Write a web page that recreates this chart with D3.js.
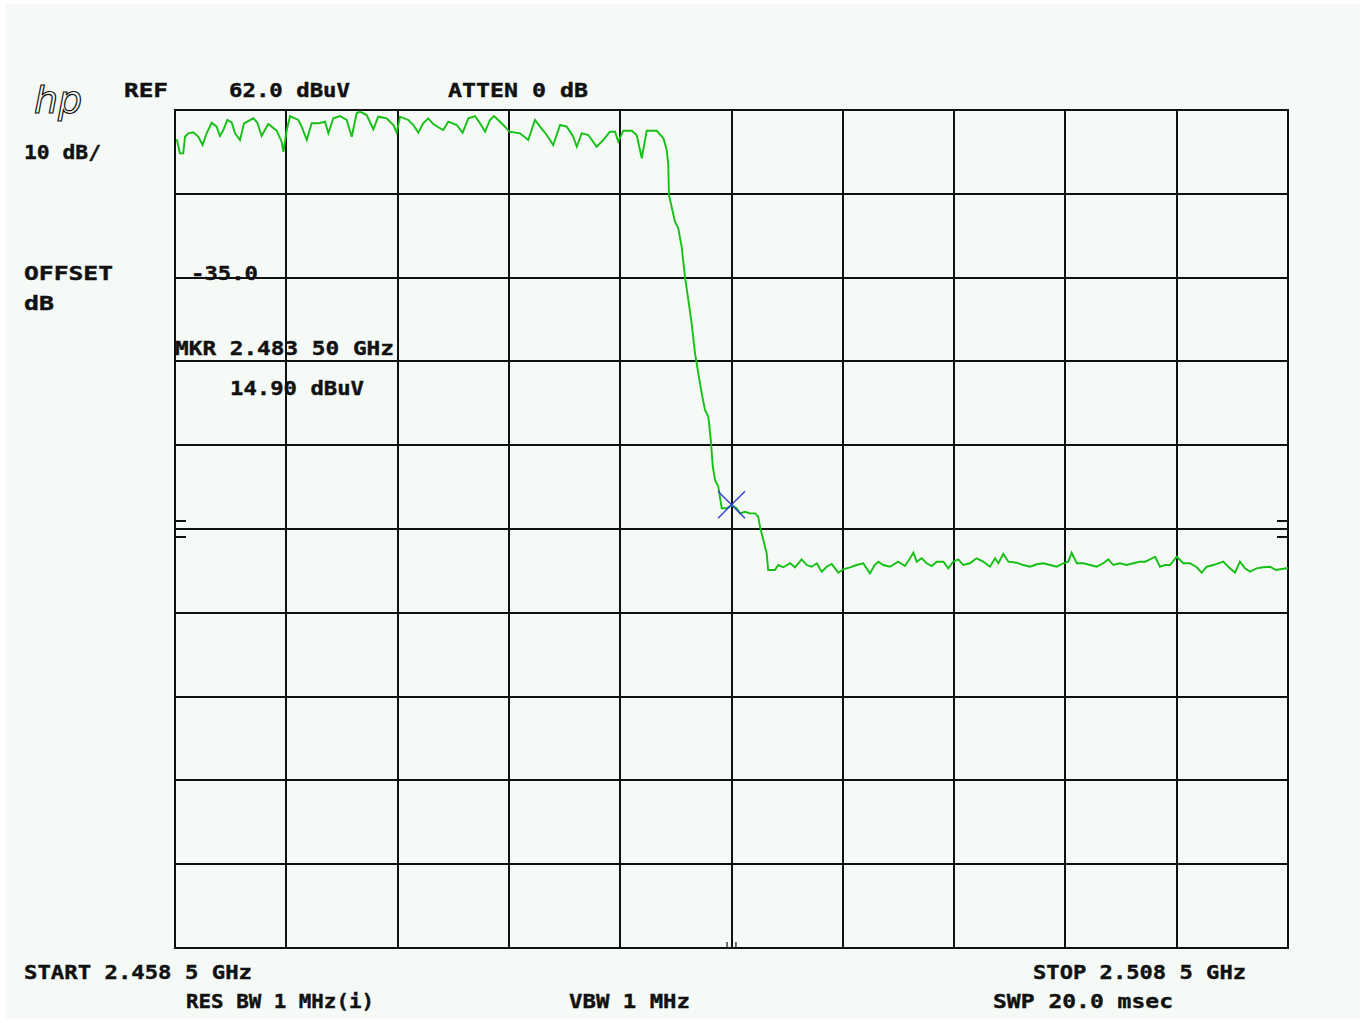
<!DOCTYPE html>
<html>
<head>
<meta charset="utf-8">
<script src="https://cdn.jsdelivr.net/npm/d3@7"></script>
<style>
  html, body { margin: 0; padding: 0; background: #ffffff; }
  svg { display: block; }
</style>
</head>
<body>
<svg id="chart" width="1366" height="1023"></svg>
<script>
// ---- Instrument settings (values) ----
const startMHz = 2458.5;
const stopMHz = 2508.5;
const refLevel = 62.0;      // dBuV, top of screen
const dbPerDiv = 10;
const nDivX = 10;
const nDivY = 10;
const markerFreq = 2483.50; // MHz
const markerLevel = 14.90;  // dBuV

// ---- Trace (frequency MHz, level dBuV) ----
const traceFreq = [
2458.58,2458.72,2458.87,2458.95,2459.10,2459.32,2459.55,2459.74,2459.92,2460.15,
2460.37,2460.52,2460.67,2460.85,2461.05,2461.20,2461.42,2461.60,2462.02,2462.20,
2462.39,2462.69,2463.07,2463.29,2463.37,2463.52,2463.67,2464.04,2464.19,2464.42,
2464.64,2464.94,2465.24,2465.39,2465.61,2465.91,2466.21,2466.44,2466.66,2466.81,
2467.11,2467.41,2467.63,2468.01,2468.31,2468.46,2468.61,2468.98,2469.21,2469.43,
2469.65,2469.88,2470.10,2470.33,2470.55,2470.78,2471.16,2471.42,2471.68,2471.98,
2472.20,2472.43,2472.65,2472.83,2473.10,2473.32,2473.52,2474.00,2474.37,2474.67,
2474.90,2475.20,2475.49,2475.80,2476.10,2476.39,2476.55,2476.77,2477.07,2477.44,
2477.74,2478.04,2478.27,2478.41,2478.64,2479.02,2479.24,2479.47,2479.69,2480.14,
2480.44,2480.59,2480.66,2480.69,2480.81,2480.96,2481.11,2481.26,2481.41,2481.56,
2481.71,2481.86,2482.01,2482.16,2482.31,2482.46,2482.57,2482.66,2482.76,2482.91,
2483.06,2483.28,2483.51,2483.73,2483.88,2484.11,2484.33,2484.56,2484.70,2484.78,
2484.93,2485.08,2485.15,2485.45,2485.60,2485.83,2486.13,2486.35,2486.65,2486.88,
2487.10,2487.33,2487.55,2487.78,2488.00,2488.30,2488.52,2488.82,2489.12,2489.42,
2489.72,2489.93,2490.10,2490.32,2490.62,2490.99,2491.29,2491.52,2491.67,2491.82,
2492.04,2492.27,2492.49,2492.72,2493.02,2493.24,2493.46,2493.69,2493.91,2494.21,
2494.51,2494.81,2495.11,2495.34,2495.49,2495.71,2495.94,2496.31,2496.61,2496.91,
2497.21,2497.51,2497.81,2498.11,2498.41,2498.63,2498.78,2499.01,2499.31,2499.61,
2499.91,2500.20,2500.43,2500.65,2500.95,2501.25,2501.55,2501.85,2502.08,2502.30,
2502.53,2502.75,2502.97,2503.20,2503.50,2503.80,2504.10,2504.40,2504.62,2504.85,
2505.15,2505.59,2505.89,2506.12,2506.34,2506.57,2506.79,2507.09,2507.39,2507.69,
2507.96,2508.50
];
const traceLevel = [
58.50,56.83,56.83,58.81,59.22,59.34,58.81,57.82,59.22,60.48,
60.01,58.90,59.61,60.81,60.48,59.22,58.42,60.41,61.01,60.48,
58.90,60.33,59.53,58.22,57.02,59.61,61.28,60.81,60.01,58.42,
60.41,60.41,60.60,59.22,61.01,61.28,60.81,58.81,61.61,61.80,
61.40,59.70,61.20,61.01,60.21,59.29,61.20,60.81,60.21,59.29,
60.41,61.01,60.33,59.94,59.61,60.60,60.21,59.29,61.01,61.28,
60.41,59.41,60.81,61.28,60.60,60.01,59.41,59.22,58.42,60.81,
60.01,59.02,57.82,60.21,60.01,58.81,57.62,59.22,59.02,57.62,
58.42,59.41,59.41,58.22,59.53,59.53,59.02,56.24,59.53,59.53,
58.62,57.23,55.44,51.86,50.46,48.67,47.88,45.69,42.11,39.33,
36.55,32.97,30.58,28.19,26.20,25.40,22.62,19.43,17.85,17.05,
14.47,14.47,14.86,14.47,13.87,14.06,13.87,13.87,13.47,12.28,
10.69,9.10,7.11,7.11,7.70,7.43,7.91,7.43,8.38,7.70,
7.50,7.91,6.90,7.50,7.83,6.79,7.19,7.43,7.70,7.91,
6.71,7.70,8.10,7.70,7.50,8.10,7.58,8.50,9.17,8.10,
8.50,7.91,7.58,8.10,8.10,7.31,8.10,8.38,7.70,7.91,
8.50,8.10,7.50,8.50,7.91,9.02,8.10,7.98,7.70,7.50,
7.79,7.91,7.70,7.50,7.91,8.10,9.17,7.91,7.91,7.70,
7.50,7.91,8.38,7.70,7.91,7.70,7.91,8.10,8.10,8.38,
8.69,7.50,7.70,7.70,8.69,7.91,7.91,7.43,6.79,7.50,
7.70,8.10,7.31,6.79,8.10,7.31,6.90,7.31,7.43,7.50,
7.11,7.35
];

// ---- Annotation texts ----
const headerLabels = ["REF", "62.0 dBuV", "ATTEN 0 dB"];
const sideLabels = ["10 dB/", "OFFSET", "dB"];
const offsetValue = "-35.0";
const markerLabels = ["MKR 2.483 50 GHz", "14.90 dBuV"];
const footerLabels = ["START 2.458 5 GHz", "STOP 2.508 5 GHz", "RES BW 1 MHz(i)", "VBW 1 MHz", "SWP 20.0 msec"];

// ---- Layout ----
const plot = { left: 175, top: 110, right: 1288, bottom: 948 };
const svg = d3.select("#chart");

svg.append("rect").attr("x", 6).attr("y", 4).attr("width", 1354).attr("height", 1015)
  .attr("fill", "#f5faf6");

const x = d3.scaleLinear().domain([startMHz, stopMHz]).range([plot.left, plot.right]);
const y = d3.scaleLinear().domain([refLevel - dbPerDiv * nDivY, refLevel]).range([plot.bottom, plot.top]);

const xGrid = d3.range(nDivX + 1).map(i => startMHz + i * (stopMHz - startMHz) / nDivX);
const yGrid = d3.range(nDivY + 1).map(i => refLevel - i * dbPerDiv);

const gridColor = "#111111";
const g = svg.append("g");
g.selectAll("line.vx").data(xGrid).join("line")
  .attr("x1", d => Math.round(x(d))).attr("x2", d => Math.round(x(d)))
  .attr("y1", plot.top - 1).attr("y2", plot.bottom + 1)
  .attr("stroke", gridColor).attr("stroke-width", 2);
g.selectAll("line.hy").data(yGrid).join("line")
  .attr("y1", d => Math.round(y(d))).attr("y2", d => Math.round(y(d)))
  .attr("x1", plot.left - 1).attr("x2", plot.right + 1)
  .attr("stroke", gridColor).attr("stroke-width", 2);

// display-line ticks on both edges
const centreLevel = refLevel - 5 * dbPerDiv;
const tickLevels = [centreLevel + 1.0, centreLevel - 1.0];
tickLevels.forEach(lv => {
  const yy = Math.round(y(lv));
  g.append("line").attr("x1", plot.left).attr("x2", plot.left + 11)
    .attr("y1", yy).attr("y2", yy).attr("stroke", gridColor).attr("stroke-width", 2);
  g.append("line").attr("x1", plot.right - 11).attr("x2", plot.right)
    .attr("y1", yy).attr("y2", yy).attr("stroke", gridColor).attr("stroke-width", 2);
});

// small marker ticks on bottom edge
[markerFreq - 0.2, markerFreq + 0.2].forEach(f => {
  g.append("line").attr("x1", x(f)).attr("x2", x(f))
    .attr("y1", plot.bottom - 6).attr("y2", plot.bottom)
    .attr("stroke", gridColor).attr("stroke-width", 1.2);
});

// trace
const traceData = traceFreq.map((f, i) => [f, traceLevel[i]]);
const line = d3.line().x(d => x(d[0])).y(d => y(d[1])).curve(d3.curveLinear);
svg.append("path").datum(traceData)
  .attr("d", line)
  .attr("fill", "none")
  .attr("stroke", "#14c014")
  .attr("stroke-width", 1.9)
  .attr("stroke-linejoin", "miter");

// marker X
const mx = x(markerFreq), my = y(markerLevel);
const arm = 13.5;
svg.append("line").attr("x1", mx - arm).attr("y1", my - arm).attr("x2", mx + arm).attr("y2", my + arm)
  .attr("stroke", "#3a3ae0").attr("stroke-width", 1.4);
svg.append("line").attr("x1", mx - arm).attr("y1", my + arm).attr("x2", mx + arm).attr("y2", my - arm)
  .attr("stroke", "#3a3ae0").attr("stroke-width", 1.4);

// text helper
const font = "'DejaVu Sans Mono', 'Liberation Mono', monospace";
function label(txt, x0, x1, base) {
  svg.append("text").attr("x", x0).attr("y", base)
    .attr("textLength", x1 - x0).attr("lengthAdjust", "spacingAndGlyphs")
    .attr("font-family", font).attr("font-weight", "bold").attr("font-size", 20)
    .attr("fill", "#111").attr("stroke", "#111").attr("stroke-width", 0.4)
    .text(txt);
}
label(headerLabels[0], 124, 168, 97);
label(headerLabels[1], 229, 350, 97);
label(headerLabels[2], 448, 588, 97);
label(sideLabels[0], 24, 101, 159);
label(sideLabels[1], 24, 113, 280);
label(sideLabels[2], 24, 54, 310);
label(offsetValue, 191, 258, 280);
label(markerLabels[0], 175, 394, 355);
label(markerLabels[1], 230, 364, 395);
label(footerLabels[0], 24, 252, 979);
label(footerLabels[1], 1033, 1246, 979);
label(footerLabels[2], 186, 374, 1008);
label(footerLabels[3], 569, 690, 1008);
label(footerLabels[4], 993, 1173, 1008);

// hp logo
svg.append("text").attr("x", 34).attr("y", 113)
  .attr("font-family", "'DejaVu Sans', sans-serif").attr("font-style", "italic")
  .attr("font-size", 38).attr("font-weight", 200)
  .attr("fill", "none").attr("stroke", "#111").attr("stroke-width", 1.2)
  .text("hp");
</script>
</body>
</html>
